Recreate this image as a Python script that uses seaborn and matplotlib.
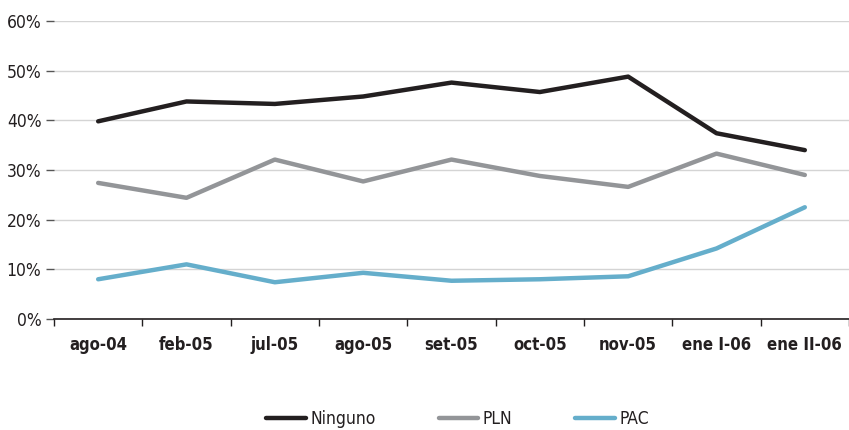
import matplotlib
matplotlib.use("Agg")
import matplotlib.pyplot as plt
from matplotlib.ticker import FixedLocator, PercentFormatter
import seaborn as sns
import pandas as pd

periods = ["ago-04", "feb-05", "jul-05", "ago-05", "set-05", "oct-05", "nov-05", "ene I-06", "ene II-06"]
ninguno = [39.8, 43.8, 43.3, 44.8, 47.6, 45.7, 48.8, 37.4, 34.0]
pln = [27.4, 24.4, 32.1, 27.7, 32.1, 28.8, 26.6, 33.3, 29.0]
pac = [8.0, 11.0, 7.4, 9.3, 7.7, 8.0, 8.6, 14.2, 22.5]
series_names = ["Ninguno", "PLN", "PAC"]
colors = ["#231f20", "#939598", "#65aecb"]

df = pd.concat([
    pd.DataFrame({"periodo": periods, "valor": vals, "serie": name})
    for name, vals in zip(series_names, [ninguno, pln, pac])
], ignore_index=True)
df["pos"] = df["periodo"].map({p: i for i, p in enumerate(periods)})

sns.set_theme(style="white")
plt.rcParams["font.family"] = ["DejaVu Sans"]
plt.rcParams["font.stretch"] = "condensed"

fig = plt.figure(figsize=(8.49, 4.30), dpi=100)
ax = fig.add_axes([54 / 849, 1 - 319 / 430, 1 - 54 / 849, (319 - 21) / 430])

sns.lineplot(data=df, x="pos", y="valor", hue="serie", hue_order=series_names,
             palette=colors, linewidth=3.2, sort=False, ax=ax, legend=False)

ax.set_xlim(-0.5, len(periods) - 0.5)
ax.set_ylim(0, 60)
ax.set_yticks(range(0, 61, 10))
ax.yaxis.set_major_formatter(PercentFormatter(decimals=0))
ax.grid(axis="y", color="#d4d4d4", linewidth=1.0)
ax.set_axisbelow(True)

ax.set_xticks(range(len(periods)))
ax.set_xticklabels(periods, fontweight="bold", fontsize=12, color="#231f20", fontstretch="condensed")
ax.xaxis.set_minor_locator(FixedLocator([i - 0.5 for i in range(len(periods) + 1)]))
ax.tick_params(axis="x", which="major", length=0, pad=12)
ax.tick_params(axis="x", which="minor", length=5, width=1, color="#231f20", direction="out", bottom=True)
ax.tick_params(axis="y", which="major", length=6, width=1, color="#555555", left=True,
               labelsize=12.5, labelcolor="#231f20", pad=3)
for lbl in ax.get_yticklabels():
    lbl.set_fontstretch("condensed")

for side in ["top", "right", "left"]:
    ax.spines[side].set_visible(False)
ax.spines["bottom"].set_color("#231f20")
ax.spines["bottom"].set_linewidth(1.2)
ax.set_xlabel("")
ax.set_ylabel("")

handles = [plt.Line2D([], [], color=c, linewidth=3.2) for c in colors]
fig.legend(handles, series_names, loc="center", bbox_to_anchor=(0.539, 1 - 419 / 430),
           ncol=3, frameon=False, fontsize=12.5, handlelength=2.3, columnspacing=3.6,
           handletextpad=0.25, labelcolor="#231f20")

fig.savefig("out.png", dpi=100)
